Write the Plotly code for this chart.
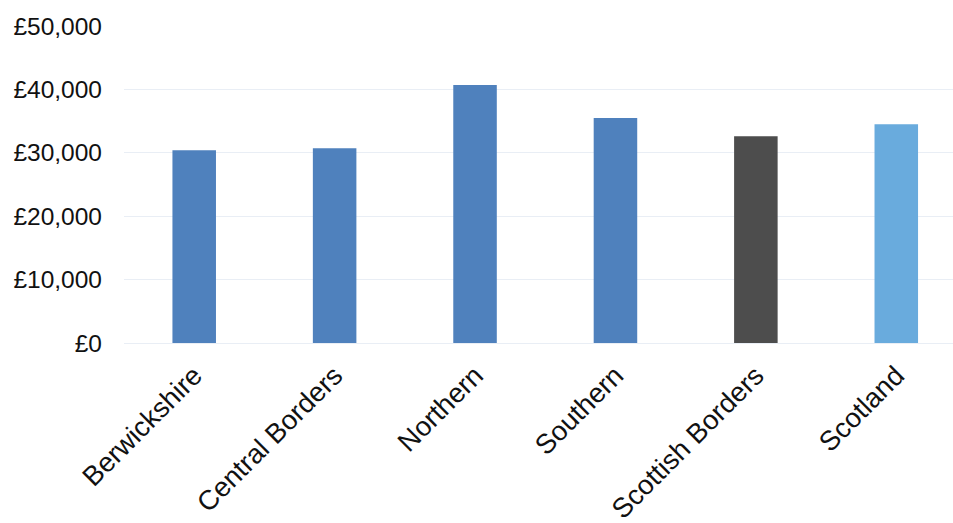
import plotly.graph_objects as go

categories = ["Berwickshire", "Central Borders", "Northern", "Southern", "Scottish Borders", "Scotland"]
values = [30400, 30700, 40700, 35500, 32600, 34500]
colors = ["#4f81bd", "#4f81bd", "#4f81bd", "#4f81bd", "#4d4d4d", "#69abdd"]
y_ticks = [0, 10000, 20000, 30000, 40000, 50000]
y_tick_labels = ["£0", "£10,000", "£20,000", "£30,000", "£40,000", "£50,000"]

W, H = 953, 523
left, top, bottom = 123.5, 26, 180.3
cat_w = 140.5
plot_w = W - left
x_max = -0.5 + plot_w / cat_w

fig = go.Figure(
    go.Bar(
        x=categories,
        y=values,
        marker=dict(color=colors, line=dict(width=0)),
        hoverinfo="x+y",
    )
)

yfont = dict(family="Liberation Sans, Arial, sans-serif", size=24.5, color="#111111")
xfont = dict(family="Liberation Sans, Arial, sans-serif", size=27.5, color="#111111")

fig.update_layout(
    width=W,
    height=H,
    margin=dict(l=left, r=0, t=top, b=bottom, pad=0),
    paper_bgcolor="white",
    plot_bgcolor="white",
    bargap=0.69,
    showlegend=False,
    font=yfont,
)
fig.update_xaxes(
    type="category",
    range=[-0.5, x_max],
    tickangle=-45,
    showgrid=False,
    showline=False,
    zeroline=False,
    ticks="",
    tickfont=xfont,
    ticklabelstandoff=10,
)
fig.update_yaxes(
    range=[0, 50000],
    tickvals=y_ticks,
    ticktext=y_tick_labels,
    showgrid=True,
    gridcolor="#e9eef5",
    gridwidth=1.3,
    zeroline=True,
    zerolinecolor="#e9eef5",
    zerolinewidth=1.3,
    showline=False,
    ticks="",
    tickfont=yfont,
    ticklabelstandoff=21,
)

fig.write_html("out.html")
